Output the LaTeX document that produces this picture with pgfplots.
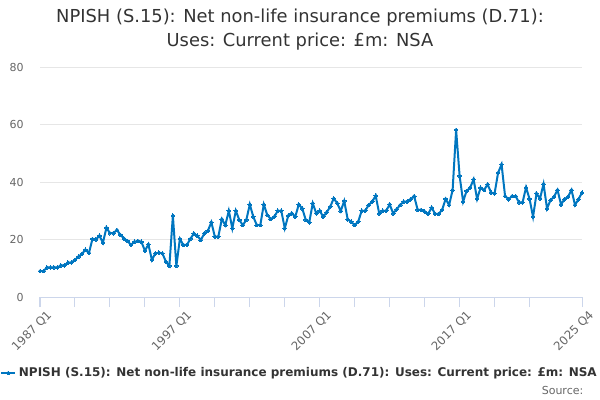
\documentclass[border=0pt]{standalone}
\usepackage{fontspec}
\setmainfont{DejaVu Sans}
\usepackage{pgfplots}
\usepackage{pgfplotstable}
\pgfplotsset{compat=1.18}
\definecolor{lineblue}{RGB}{0,118,192}
\definecolor{gridgray}{RGB}{230,230,230}
\definecolor{axisblue}{RGB}{204,214,235}
\definecolor{labelgray}{RGB}{102,102,102}
\definecolor{titlegray}{RGB}{51,51,51}
\pgfplotstableread{
i v
0 9
1 9
2 10.3
3 10.3
4 10.3
5 10.3
6 11
7 11
8 12
9 12
10 12.9
11 14
12 15
13 16.4
14 15.3
15 20.2
16 20
17 21.3
18 18.9
19 24.1
20 22.2
21 22.2
22 23.3
23 21.6
24 20.4
25 19.5
26 18.1
27 19.2
28 19.5
29 19.2
30 16.1
31 18.3
32 12.9
33 15.2
34 15.4
35 15.2
36 12.3
37 10.8
38 28.3
39 10.8
40 20.2
41 18.1
42 18.1
43 20.2
44 22.1
45 21.3
46 19.8
47 22.1
48 23
49 26
50 21
51 21
52 27.1
53 25
54 30
55 23.9
56 30
57 26.8
58 25
59 26.8
60 32.2
61 27.9
62 25
63 25
64 32.2
65 28.5
66 27.1
67 27.9
68 30
69 30
70 23.9
71 28.3
72 29.1
73 27.9
74 32.2
75 30.8
76 26.8
77 26
78 32.6
79 29.1
80 30
81 27.9
82 29.5
83 31.4
84 34.3
85 32.6
86 29.9
87 33.4
88 27
89 26.2
90 25
91 26.2
92 30
93 30
94 32
95 33.2
96 35.2
97 29.1
98 30
99 30
100 32.2
101 29.1
102 30.5
103 32
104 33.2
105 33.2
106 34
107 35.1
108 30.3
109 30.3
110 29.7
111 28.9
112 31.1
113 28.9
114 28.9
115 30.3
116 34.1
117 32
118 37.2
119 58.1
120 42.1
121 33.2
122 36.9
123 38
124 40.9
125 34.1
126 38
127 37.2
128 39.2
129 36.3
130 36
131 43.2
132 46.1
133 35.1
134 34
135 35.1
136 35.1
137 32.9
138 32.9
139 38.1
140 34.1
141 27.9
142 36
143 34.3
144 39.3
145 30.8
146 33.7
147 34.9
148 37.2
149 32.2
150 34
151 34.9
152 37.2
153 32
154 34
155 36.3
}\datatable
\begin{document}
\begin{tikzpicture}
\useasboundingbox (0pt,0pt) rectangle (450pt,300pt);
\clip (0pt,0pt) rectangle (450pt,300pt);
\node[font=\fontsize{13.4}{16}\selectfont, text=titlegray] at (225pt,286.5pt) {NPISH (S.15): Net non-life insurance premiums (D.71):};
\node[font=\fontsize{13.4}{16}\selectfont, text=titlegray] at (225pt,268.5pt) {Uses: Current price: £m: NSA};
\begin{axis}[
  at={(30pt,77.25pt)}, anchor=south west,
  scale only axis, width=406.5pt, height=172.5pt,
  xmin=0, xmax=155, ymin=0, ymax=80,
  clip=false,
  axis x line*=bottom, axis y line*=left,
  x axis line style={draw=axisblue, line width=0.75pt, -},
  y axis line style={draw=none},
  xtick={0,40,80,120,155},
  xticklabels={1987 Q1,1997 Q1,2007 Q1,2017 Q1,2025 Q4},
  minor xtick={10,20,30,50,60,70,90,100,110,130,140},
  tick align=outside,
  major tick length=7.5pt, minor tick length=7.5pt,
  xtick style={draw=axisblue, line width=0.75pt},
  minor tick style={draw=axisblue, line width=0.75pt},
  ytick={0,20,40,60,80},
  ytick style={draw=none},
  ymajorgrids, grid style={draw=gridgray, line width=0.75pt},
  /pgf/number format/assume math mode=true,
  tick label style={font=\fontsize{8.25}{10}\selectfont, text=labelgray},
  xticklabel style={font=\fontsize{8.8}{10}\selectfont, rotate=45, anchor=north east, inner sep=0pt, xshift=2pt, yshift=-4.5pt},
  yticklabel style={anchor=east, inner sep=0pt, xshift=-4.5pt},
  legend style={at={(-0.0738,-0.330)}, anchor=west, draw=none, fill=none,
    font=\bfseries\fontsize{9}{11}\selectfont, text=titlegray, inner sep=0pt},
  legend cell align=left,
  legend image code/.code={\draw[mark repeat=2,mark phase=2,#1] plot coordinates {(0pt,0pt) (5.25pt,0pt) (10.5pt,0pt)};},
]
\addplot[color=lineblue, line width=1.5pt, mark=*, mark size=1.4pt, mark options={line width=0pt}] table[x=i,y=v] {\datatable};
\addlegendentry{NPISH (S.15): Net non-life insurance premiums (D.71): Uses: Current price: £m: NSA}
\end{axis}
\node[anchor=east, font=\fontsize{8.25}{10}\selectfont, text=labelgray] at (441pt,7.5pt) {Source:};
\end{tikzpicture}
\end{document}
